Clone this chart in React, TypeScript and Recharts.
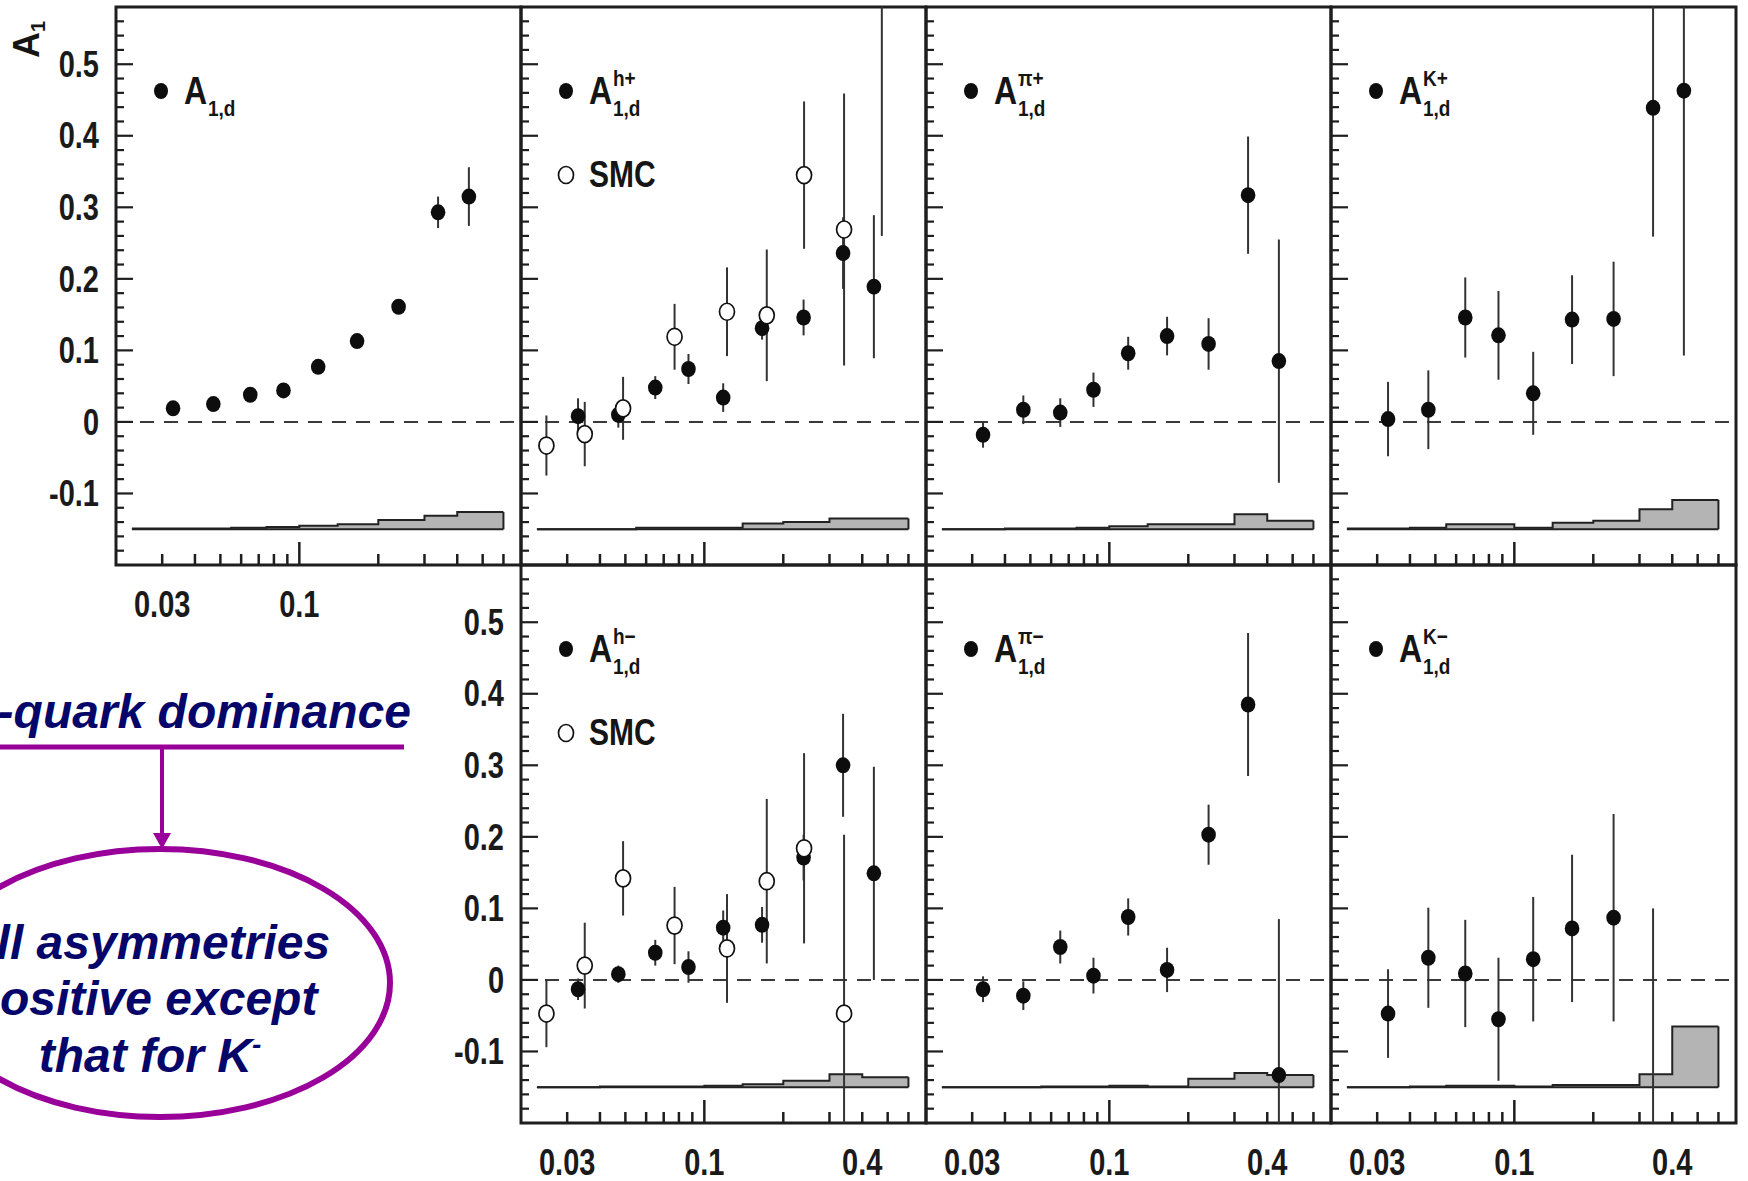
import React from 'react';
import { ComposedChart, Scatter, Area, XAxis, YAxis, ErrorBar, ReferenceLine, ReferenceArea } from 'recharts';

// x bins (HERMES points) and SMC points
const X_BINS = [0.033, 0.047, 0.065, 0.087, 0.118, 0.166, 0.239, 0.338, 0.443];
const SMC_X = [0.025, 0.035, 0.049, 0.077, 0.122, 0.173, 0.24, 0.341, 0.475];
// edges of the systematic error histogram, drawn from SYS_BASE upward
const BIN_EDGES = [0.023, 0.04, 0.055, 0.075, 0.1, 0.14, 0.2, 0.3, 0.4, 0.6];
const SYS_BASE = -0.15;

const X_TICKS = [0.03, 0.04, 0.05, 0.06, 0.07, 0.08, 0.09, 0.1, 0.2, 0.3, 0.4, 0.5, 0.6];
const X_MAJOR = [0.1];
const X_TICK_LABELS = [0.03, 0.1, 0.4];
const Y_TICK_LABELS = [-0.1, 0, 0.1, 0.2, 0.3, 0.4, 0.5];
const X_DOMAIN = [0.02, 0.7];
const Y_DOMAIN = [-0.2, 0.58];

// inclusive A1,d
const D_Y = [0.019, 0.025, 0.038, 0.044, 0.077, 0.113, 0.161, 0.293, 0.315];
const D_ERR = [0.004, 0.004, 0.004, 0.005, 0.005, 0.006, 0.008, 0.022, 0.041];
const D_SYS = [0.001, 0.001, 0.002, 0.003, 0.005, 0.007, 0.013, 0.019, 0.024];

// h+
const HP_Y = [0.008, 0.01, 0.048, 0.074, 0.034, 0.131, 0.146, 0.236, 0.189];
const HP_ERR = [0.025, 0.018, 0.016, 0.021, 0.02, 0.016, 0.025, 0.05, 0.1];
const HP_SYS = [0.0, 0.0, 0.002, 0.002, 0.002, 0.008, 0.01, 0.015, 0.015];
const SMC_HP_Y = [-0.033, -0.017, 0.019, 0.119, 0.154, 0.149, 0.345, 0.269, 0.62];
const SMC_HP_ERR = [0.042, 0.045, 0.044, 0.046, 0.062, 0.092, 0.103, 0.19, 0.36];

// pi+
const PIP_Y = [-0.018, 0.017, 0.013, 0.045, 0.096, 0.12, 0.109, 0.317, 0.085];
const PIP_ERR = [0.018, 0.02, 0.02, 0.024, 0.023, 0.027, 0.036, 0.082, 0.17];
const PIP_SYS = [0.0, 0.001, 0.001, 0.002, 0.004, 0.007, 0.007, 0.021, 0.012];

// K+
const KP_Y = [0.004, 0.017, 0.146, 0.121, 0.04, 0.143, 0.144, 0.439, 0.463];
const KP_ERR = [0.052, 0.055, 0.056, 0.062, 0.058, 0.062, 0.08, 0.18, 0.37];
const KP_SYS = [0.001, 0.002, 0.007, 0.007, 0.002, 0.009, 0.012, 0.028, 0.041];

// h-
const HM_Y = [-0.013, 0.008, 0.038, 0.018, 0.073, 0.077, 0.171, 0.3, 0.149];
const HM_ERR = [0.015, 0.012, 0.018, 0.022, 0.024, 0.025, 0.032, 0.072, 0.149];
const HM_SYS = [0.0, 0.001, 0.001, 0.001, 0.002, 0.004, 0.009, 0.018, 0.014];
const SMC_HM_Y = [-0.047, 0.02, 0.142, 0.076, 0.044, 0.138, 0.184, -0.047];
const SMC_HM_ERR = [0.047, 0.06, 0.052, 0.054, 0.076, 0.115, 0.133, 0.25];

// pi-
const PIM_Y = [-0.013, -0.022, 0.046, 0.006, 0.088, 0.014, 0.203, 0.385, -0.133];
const PIM_ERR = [0.018, 0.02, 0.023, 0.025, 0.026, 0.031, 0.042, 0.1, 0.218];
const PIM_SYS = [0.0, 0.0, 0.001, 0.001, 0.002, 0.001, 0.012, 0.02, 0.017];

// K-
const KM_Y = [-0.047, 0.031, 0.009, -0.055, 0.029, 0.072, 0.087, -0.33];
const KM_ERR = [0.062, 0.07, 0.075, 0.086, 0.087, 0.103, 0.145, 0.43];
const KM_SYS = [0.0, 0.001, 0.002, 0.002, 0.001, 0.003, 0.003, 0.018, 0.085];

// layout
const COL_LEFT = [116, 521, 926, 1331];
const ROW_TOP = [7, 565];
const PLOT_W = 405;
const PLOT_H = 558;
const Y_AXIS_W = 110;
const X_AXIS_H = 60;
const PAD_TOP = 10;
const PAD_RIGHT = 10;

const AXIS = '#1e1e1e';
const FONT = '"Liberation Sans", Arial, Helvetica, sans-serif';
const NAVY = '#05056a';
const PURPLE = '#990099';

// minor y ticks every 0.02
const Y_TICKS = Array.from({ length: 38 }, (_, i) => Math.round((-0.18 + i * 0.02) * 100) / 100);

const near = (list: number[], v: number) => list.some((l) => Math.abs(l - v) < 1e-9);

// error bars stop at the frame, like the clipped bars of the original plot
const toPoints = (xs: number[], ys: number[], errs: number[]) =>
  ys.map((y, i) => ({
    x: xs[i],
    y,
    err: [Math.min(errs[i], y - Y_DOMAIN[0]), Math.min(errs[i], Y_DOMAIN[1] - y)],
  }));

const toBand = (sys: number[]) =>
  BIN_EDGES.map((x, i) => ({ x, band: [SYS_BASE, SYS_BASE + sys[Math.min(i, sys.length - 1)]] }));

const PANELS = [
  { key: 'd', col: 0, row: 0, sup: '', main: toPoints(X_BINS, D_Y, D_ERR), smc: null, sys: D_SYS, yLabels: true, xLabels: [0.03, 0.1] },
  { key: 'hp', col: 1, row: 0, sup: 'h+', main: toPoints(X_BINS, HP_Y, HP_ERR), smc: toPoints(SMC_X, SMC_HP_Y, SMC_HP_ERR), sys: HP_SYS, yLabels: false, xLabels: [] },
  { key: 'pip', col: 2, row: 0, sup: 'π+', main: toPoints(X_BINS, PIP_Y, PIP_ERR), smc: null, sys: PIP_SYS, yLabels: false, xLabels: [] },
  { key: 'kp', col: 3, row: 0, sup: 'K+', main: toPoints(X_BINS, KP_Y, KP_ERR), smc: null, sys: KP_SYS, yLabels: false, xLabels: [] },
  { key: 'hm', col: 1, row: 1, sup: 'h−', main: toPoints(X_BINS, HM_Y, HM_ERR), smc: toPoints(SMC_X, SMC_HM_Y, SMC_HM_ERR), sys: HM_SYS, yLabels: true, xLabels: X_TICK_LABELS },
  { key: 'pim', col: 2, row: 1, sup: 'π−', main: toPoints(X_BINS, PIM_Y, PIM_ERR), smc: null, sys: PIM_SYS, yLabels: false, xLabels: X_TICK_LABELS },
  { key: 'km', col: 3, row: 1, sup: 'K−', main: toPoints(X_BINS, KM_Y, KM_ERR), smc: null, sys: KM_SYS, yLabels: false, xLabels: X_TICK_LABELS },
];

const XTick = ({ x, y, payload, labels }: any) => {
  const v = payload.value;
  const major = near(X_MAJOR, v);
  return (
    <g>
      <line x1={x} y1={y} x2={x} y2={y - (major ? 23 : 11)} stroke={AXIS} strokeWidth={2.5} />
      {near(labels, v) && (
        <text
          transform={`translate(${x},${y + 39}) scale(1,1.25)`}
          textAnchor="middle"
          dominantBaseline="central"
          fontFamily={FONT}
          fontWeight="bold"
          fontSize={29}
          fill="#1a1a1a"
        >
          {v}
        </text>
      )}
    </g>
  );
};

const YTick = ({ x, y, payload, showLabel }: any) => {
  const v = payload.value;
  const major = near(Y_TICK_LABELS, v);
  return (
    <g>
      <line x1={x} y1={y} x2={x + (major ? 17 : 8)} y2={y} stroke={AXIS} strokeWidth={2.2} />
      {showLabel && major && (
        <text
          transform={`translate(${x - 17},${y}) scale(1,1.25)`}
          textAnchor="end"
          dominantBaseline="central"
          fontFamily={FONT}
          fontWeight="bold"
          fontSize={29}
          fill="#1a1a1a"
        >
          {v === 0 ? '0' : String(v)}
        </text>
      )}
    </g>
  );
};

const FilledDot = (p: any) => <ellipse cx={p.cx} cy={p.cy} rx={7.3} ry={8} fill="#0d0d0d" />;
const OpenDot = (p: any) => (
  <ellipse cx={p.cx} cy={p.cy} rx={7.5} ry={8.5} fill="#ffffff" stroke="#111" strokeWidth={1.7} />
);

const Panel = ({ cfg }: any) => {
  const left = COL_LEFT[cfg.col] - Y_AXIS_W;
  const top = ROW_TOP[cfg.row] - PAD_TOP;
  const band = toBand(cfg.sys);
  const lastEdge = BIN_EDGES[BIN_EDGES.length - 1];
  const lastSys = cfg.sys[cfg.sys.length - 1];
  return (
    <div style={{ position: 'absolute', left, top }}>
      <ComposedChart
        width={Y_AXIS_W + PLOT_W + PAD_RIGHT}
        height={PAD_TOP + PLOT_H + X_AXIS_H}
        data={band}
        margin={{ top: PAD_TOP, right: PAD_RIGHT, left: 0, bottom: 0 }}
      >
        <XAxis
          dataKey="x"
          type="number"
          scale="log"
          domain={X_DOMAIN}
          allowDataOverflow
          ticks={X_TICKS}
          interval={0}
          height={X_AXIS_H}
          axisLine={false}
          tickLine={false}
          tickSize={0}
          tickMargin={0}
          tick={(p: any) => <XTick {...p} labels={cfg.xLabels} />}
        />
        <YAxis
          dataKey="y"
          type="number"
          domain={Y_DOMAIN}
          allowDataOverflow
          ticks={Y_TICKS}
          interval={0}
          width={Y_AXIS_W}
          axisLine={false}
          tickLine={false}
          tickSize={0}
          tickMargin={0}
          tick={(p: any) => <YTick {...p} showLabel={cfg.yLabels} />}
        />
        <ReferenceLine y={0} stroke="#3a3a3a" strokeWidth={2} strokeDasharray="14 10" />
        <Area
          dataKey="band"
          type="stepAfter"
          fill="#b4b4b4"
          fillOpacity={1}
          stroke="#222"
          strokeWidth={2}
          dot={false}
          activeDot={false}
          isAnimationActive={false}
        />
        <ReferenceLine
          segment={[{ x: lastEdge, y: SYS_BASE }, { x: lastEdge, y: SYS_BASE + lastSys }]}
          stroke="#222"
          strokeWidth={2}
        />
        <Scatter data={cfg.main} dataKey="y" shape={FilledDot} isAnimationActive={false}>
          <ErrorBar dataKey="err" direction="y" width={0} stroke="#333" strokeWidth={2} isAnimationActive={false} />
        </Scatter>
        {cfg.smc && (
          <Scatter data={cfg.smc} dataKey="y" shape={OpenDot} isAnimationActive={false}>
            <ErrorBar dataKey="err" direction="y" width={0} stroke="#333" strokeWidth={2} isAnimationActive={false} />
          </Scatter>
        )}
        <ReferenceArea
          x1={X_DOMAIN[0]}
          x2={X_DOMAIN[1]}
          y1={Y_DOMAIN[0]}
          y2={Y_DOMAIN[1]}
          fill="none"
          stroke={AXIS}
          strokeWidth={3}
          ifOverflow="visible"
        />
      </ComposedChart>
    </div>
  );
};

const PanelLegend = ({ cfg }: any) => {
  const L = COL_LEFT[cfg.col];
  const T = ROW_TOP[cfg.row];
  return (
    <g fontFamily={FONT} fontWeight="bold" fill="#151515">
      <ellipse cx={L + 45} cy={T + 84} rx={7} ry={8} fill="#0d0d0d" />
      <text transform={`translate(${L + 68},${T + 97}) scale(1,1.22)`} fontSize={32}>A</text>
      {cfg.sup && (
        <text transform={`translate(${L + 92},${T + 79}) scale(1,1.15)`} fontSize={19}>{cfg.sup}</text>
      )}
      <text transform={`translate(${L + 92},${T + 109}) scale(1,1.15)`} fontSize={19}>1,d</text>
      {cfg.smc && (
        <g>
          <ellipse cx={L + 45} cy={T + 168} rx={7.5} ry={8.5} fill="#fff" stroke="#111" strokeWidth={1.7} />
          <text transform={`translate(${L + 68},${T + 180}) scale(1,1.2)`} fontSize={30}>SMC</text>
        </g>
      )}
    </g>
  );
};

const App = () => (
  <div style={{ position: 'absolute', left: 0, top: 0, width: 1748, height: 1181, background: '#fff', overflow: 'hidden' }}>
    {PANELS.map((cfg) => (
      <Panel key={cfg.key} cfg={cfg} />
    ))}
    <svg width={1748} height={1181} style={{ position: 'absolute', left: 0, top: 0, pointerEvents: 'none' }}>
      {PANELS.map((cfg) => (
        <PanelLegend key={cfg.key} cfg={cfg} />
      ))}
      <text transform="translate(39,58) rotate(-90)" fontFamily={FONT} fontWeight="bold" fontSize={36} fill="#151515">
        A<tspan fontSize={20} dy={6}>1</tspan>
      </text>

      <g fontFamily={FONT} fontWeight="bold" fontStyle="italic" fontSize={48} fill={NAVY}>
        <text x={411} y={728} textAnchor="end">u-quark dominance</text>
        <text textAnchor="middle">
          <tspan x={146} y={959}>All asymmetries</tspan>
          <tspan x={144} y={1015}>positive except</tspan>
          <tspan x={150} y={1072}>
            that for K<tspan dy={-18} fontSize={28}>-</tspan>
          </tspan>
        </text>
      </g>
      <line x1={0} y1={747} x2={404} y2={747} stroke={PURPLE} strokeWidth={5} />
      <line x1={162} y1={747} x2={162} y2={836} stroke={PURPLE} strokeWidth={4} />
      <polygon points="153,833 171,833 162,849" fill={PURPLE} />
      <ellipse cx={160} cy={983} rx={230} ry={134} fill="none" stroke={PURPLE} strokeWidth={6} />
    </svg>
  </div>
);

export default App;
